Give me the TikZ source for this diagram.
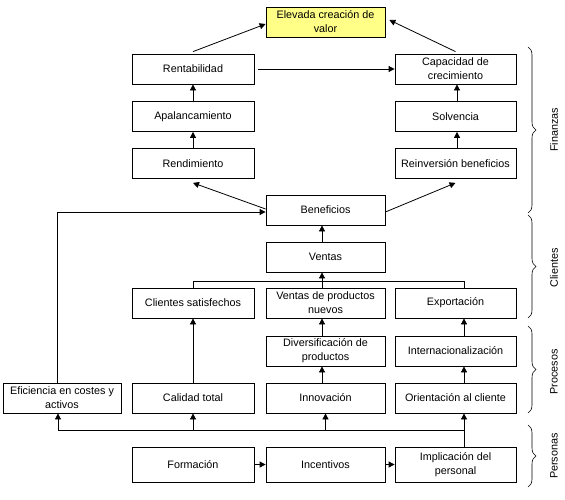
\documentclass[tikz,border=0pt]{standalone}
\usepackage{fontspec}
\setmainfont{Liberation Sans}
\usetikzlibrary{arrows.meta,decorations.pathreplacing,calc}
\definecolor{elevfill}{HTML}{FFFF88}
\begin{document}
\begin{tikzpicture}[x=1pt,y=-1pt,
  box/.style={draw, line width=0.8pt, align=center, minimum height=30pt, inner sep=1pt, font=\fontsize{10.8}{14}\selectfont},
  lw/.style={minimum width=122pt},
  mw/.style={minimum width=119pt},
  rw/.style={minimum width=121pt},
  arr/.style={line width=0.8pt, -{Triangle[length=6pt,width=6pt]}},
  ln/.style={line width=0.8pt},
  brc/.style={decorate, decoration={brace, amplitude=8pt}, line width=0.6pt},
  lab/.style={rotate=90, font=\fontsize{10.8}{14}\selectfont}]
\useasboundingbox (0,0) rectangle (565,499);
% nodes
\node[box,mw,fill=elevfill] (elev) at (325.5,22) {Elevada creación de\\valor};
\node[box,lw] (rent) at (193,69) {Rentabilidad};
\node[box,rw] (cap) at (455.5,69) {Capacidad de\\crecimiento};
\node[box,lw] (apal) at (193,116.5) {Apalancamiento};
\node[box,rw] (solv) at (455.5,116.5) {Solvencia};
\node[box,lw] (rend) at (193,163.5) {Rendimiento};
\node[box,rw] (reinv) at (455.5,163.5) {Reinversión beneficios};
\node[box,mw] (ben) at (325.5,210) {Beneficios};
\node[box,mw] (ventas) at (325.5,257) {Ventas};
\node[box,lw] (csat) at (193,303) {Clientes satisfechos};
\node[box,mw] (vpn) at (325.5,303) {Ventas de productos\\nuevos};
\node[box,rw] (expo) at (455.5,303) {Exportación};
\node[box,mw] (div) at (325.5,351) {Diversificación de\\productos};
\node[box,rw] (intl) at (455.5,351) {Internacionalización};
\node[box,minimum width=118pt] (efic) at (62,398) {Eficiencia en costes y\\activos};
\node[box,lw] (cal) at (193,398) {Calidad total};
\node[box,mw] (innov) at (325.5,398) {Innovación};
\node[box,rw] (orient) at (455.5,398) {Orientación al cliente};
\node[box,lw,minimum height=35pt] (form) at (193,464.5) {Formación};
\node[box,mw,minimum height=35pt] (incent) at (325.5,464.5) {Incentivos};
\node[box,rw,minimum height=35pt] (impl) at (455.5,464.5) {Implicación del\\personal};
% helper coordinates
\coordinate (xm) at (322,0);
\coordinate (xr) at (457,0);
\coordinate (xr2) at (464,0);
\coordinate (xe) at (57,0);
\coordinate (cbus) at (0,281);
\coordinate (pbus) at (464,430);
% finance connectors
\draw[arr] ([yshift=2pt]rent.north) -- ([yshift=-2pt]elev.west);
\draw[arr] ([yshift=2pt]cap.north) -- ([xshift=4pt,yshift=2pt]elev.east);
\draw[arr] ([xshift=4pt]rent.east) -- (cap.west);
\draw[arr] (rend.north) -- (apal.south);
\draw[arr] (apal.north) -- (rent.south);
\draw[arr] (reinv.north -| xr) -- (solv.south -| xr);
\draw[arr] (solv.north -| xr) -- (cap.south -| xr);
\draw[arr] ([yshift=1pt]ben.west) -- ([yshift=-4pt]rend.south);
\draw[arr] ([yshift=-2pt]ben.east) -- ([yshift=-4pt]reinv.south);
% clients
\draw[arr] (ventas.north -| xm) -- (ben.south -| xm);
\draw[arr] (vpn.north -| xm) -- (ventas.south -| xm);
\draw[ln] (csat.north) -- (csat.north |- cbus) -| (expo.north -| xr2);
% processes
\draw[arr] (div.north -| xm) -- (vpn.south -| xm);
\draw[arr] (intl.north -| xr2) -- (expo.south -| xr2);
\draw[arr] (innov.north -| xm) -- (div.south -| xm);
\draw[arr] (orient.north -| xr2) -- (intl.south -| xr2);
\draw[arr] (cal.north) -- (csat.south);
\draw[arr] (efic.north -| xe) |- ([yshift=-2pt]ben.west);
% people
\draw[arr] (impl.north -| pbus) -- (orient.south -| pbus);
\draw[arr] (pbus) -| ([xshift=-4pt]efic.south);
\draw[arr] (cal.south |- pbus) -- (cal.south);
\draw[arr] (innov.south |- pbus) -- (innov.south);
\draw[arr] (form.east) -- (incent.west);
\draw[arr] (incent.east) -- (impl.west);
% braces
\draw[brc] (528,47) -- (528,213) coordinate[midway] (bf);
\draw[brc] (528,215) -- (528,318) coordinate[midway] (bc);
\draw[brc] (528,326) -- (528,413) coordinate[midway] (bp);
\draw[brc] (528,425) -- (528,487) coordinate[midway] (bq);
\node[lab] (lf) at (554,130) {Finanzas};
\node[lab] (lc) at (554,268) {Clientes};
\node[lab] (lp) at (554,372) {Procesos};
\node[lab] (lq) at (554,456) {Personas};
\end{tikzpicture}
\end{document}
